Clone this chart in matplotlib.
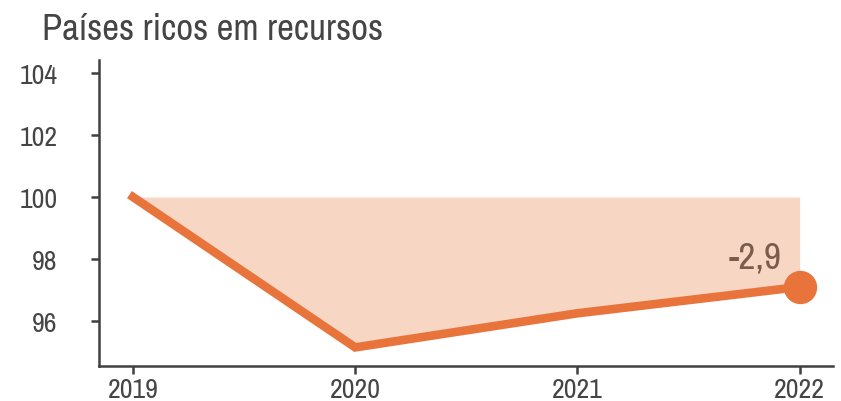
import matplotlib
matplotlib.use("Agg")
import matplotlib.pyplot as plt
from matplotlib import font_manager

years = [2019, 2020, 2021, 2022]
values = [100.0, 95.15, 96.25, 97.1]
baseline = 100.0
yticks = [96, 98, 100, 102, 104]
title = "Países ricos em recursos"
end_label = "-2,9"

names = {f.name for f in font_manager.fontManager.ttflist}
narrow = "Archivo Narrow" if "Archivo Narrow" in names else "Liberation Sans"

line_c = "#E8743B"
fill_c = "#F7D6C4"
text_c = "#454545"
lab_c = "#7A5C4C"

fig = plt.figure(figsize=(8.41, 4.02), dpi=100)
ax = fig.add_axes([99/841, 1-367/402, (833-99)/841, (367-61)/402])

ax.fill_between(years, values, baseline, color=fill_c, linewidth=0, zorder=1)
ax.plot(years, values, color=line_c, linewidth=6.2, solid_joinstyle="miter", zorder=3)
ax.plot([years[-1]], [values[-1]], marker="o", markersize=24, color=line_c, zorder=4, markeredgewidth=0)
ax.text(years[-1] - 0.08, values[-1] + 0.42, end_label, ha="right", va="bottom",
        fontsize=27, color=lab_c, family=narrow)

ax.set_xlim(2018.847, 2022.15)
ax.set_ylim(94.55, 104.42)
ax.set_xticks(years)
ax.set_yticks(yticks)
ax.set_xticklabels([str(y) for y in years], family=narrow, fontsize=20, color=text_c)
ax.set_yticklabels([str(y) for y in yticks], family=narrow, fontsize=20, color=text_c)
for s in ["top", "right"]:
    ax.spines[s].set_visible(False)
for s in ["left", "bottom"]:
    ax.spines[s].set_color("#404040")
    ax.spines[s].set_linewidth(1.8)
ax.tick_params(axis="both", direction="out", length=6, width=1.8, color="#404040")
ax.tick_params(axis="y", pad=24)
ax.tick_params(axis="x", pad=2)

fig.text(42/841, 1-40/402, title, fontsize=26.5, family=narrow, color=text_c, ha="left", va="baseline")

fig.savefig("out.png", dpi=100)
